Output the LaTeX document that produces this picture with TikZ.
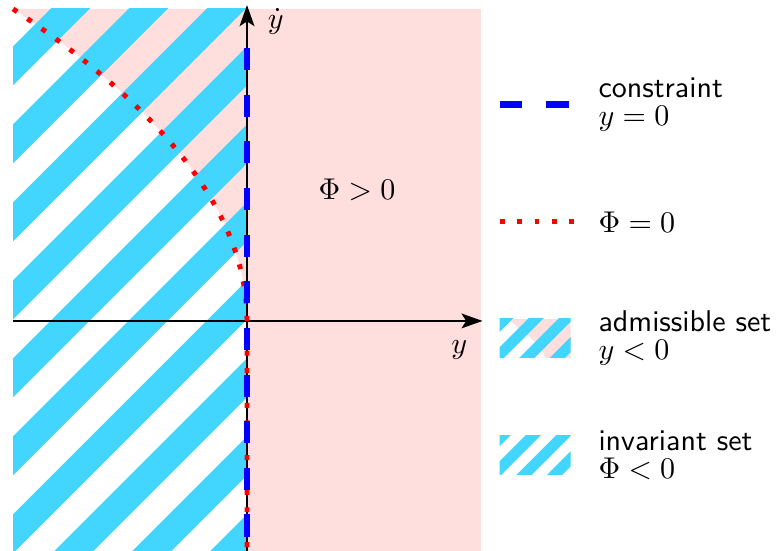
\documentclass[tikz,border=0pt]{standalone}
\usepackage{xcolor}
\usepackage{tikz}
\usetikzlibrary{arrows.meta, positioning}
\definecolor{PhiPink}{RGB}{255, 222, 222}
\definecolor{SetCyan}{RGB}{66, 213, 253}

\tikzset{
  axisline/.style={line width=0.7pt, -{Stealth[length=2.7mm, width=1.9mm, inset=0.6mm]}},
  constraintline/.style={blue, line width=2.5pt, dash pattern=on 0.284cm off 0.314cm},
  phicurve/.style={red, line width=1.8pt, dash pattern=on 1.8pt off 4.55pt},
  legendtext/.style={anchor=west, inner sep=0pt, align=left},
}

\begin{document}
\begin{tikzpicture}[every node/.style={font=\fontsize{10.95}{10.2}\selectfont}]
    \useasboundingbox (-3.167,-2.949) rectangle (6.808,4.115);
    \fill[PhiPink] (-3,-3) rectangle (3,4);
    \fill[white] (-3,4) .. controls (-1,2.667) and (0,1.333) .. (0,0) -- (0,-3) -- (-3,-3) -- cycle;
    \begin{scope}
      \clip (-3,-3) rectangle (0,4);
      \foreach \n in {-8,...,3}
        \fill[SetCyan] ({\n+0.48-4},-4) -- ({\n+0.98-4},-4) -- ({\n+0.98+5},5) -- ({\n+0.48+5},5) -- cycle;
    \end{scope}

    \coordinate (origin) at (0,0);
    \coordinate (xstart) at (-3,0);
    \coordinate (xend) at (3.02,0);
    \coordinate (ystart) at (0,-3);
    \coordinate (yend) at (0,4.05);
    \coordinate (phitop) at (-3,4);
    \coordinate (ctop) at (0,3.75);
    \draw[axisline] (xstart) -- (xend);
    \draw[axisline] (ystart) -- (yend);
    \node (ylabel) at (2.72,-0.37) {$y$};
    \node[inner sep=1pt] (ydotlabel) at (0.37,3.846) {$\dot y$};
    \node (phipos) at (1.41,1.68) {$\Phi>0$};
    \draw[phicurve] (phitop) .. controls (-1,2.667) and (0,1.333) .. (origin) -- (ystart);
    \draw[constraintline, dash phase=0.363cm] (ystart) -- (ctop);

    \draw[constraintline] (3.24,2.77) -- (4.15,2.77);
    \node[legendtext] (constraint) at (4.5,2.77) {{\sffamily constraint}\\$y=0$};
    \draw[phicurve] (3.24,1.27) -- (4.2,1.27);
    \node[legendtext] (phizero) at (4.5,1.27) {$\Phi=0$};
    \begin{scope}
      \clip (3.24,-0.47) rectangle (4.15,0.03);
      \fill[PhiPink] (3.24,-0.47) rectangle (4.15,0.03);
      \fill[white] (3.24,-0.47) -- (3.24,0.03) -- (3.34,0.03) .. controls (3.55,-0.15) and (3.78,-0.3) .. (3.82,-0.47) -- cycle;
      \foreach \k in {-1,...,4}
        \fill[SetCyan] ({3.185+0.39*\k-0.6},-0.6) -- ({3.38+0.39*\k-0.6},-0.6) -- ({3.38+0.39*\k+0.2},0.2) -- ({3.185+0.39*\k+0.2},0.2) -- cycle;
    \end{scope}
    \node[legendtext] (admissible) at (4.5,-0.22) {{\sffamily admissible set}\\$y<0$};
    \begin{scope}
      \clip (3.24,-1.974) rectangle (4.15,-1.474);
      \foreach \k in {-1,...,4}
        \fill[SetCyan] ({4.649+0.39*\k-2.1},-2.1) -- ({4.844+0.39*\k-2.1},-2.1) -- ({4.844+0.39*\k-1.3},-1.3) -- ({4.649+0.39*\k-1.3},-1.3) -- cycle;
    \end{scope}
    \node[legendtext] (invariant) at (4.5,-1.72) {{\sffamily invariant set}\\$\Phi<0$};
\end{tikzpicture}
\end{document}
